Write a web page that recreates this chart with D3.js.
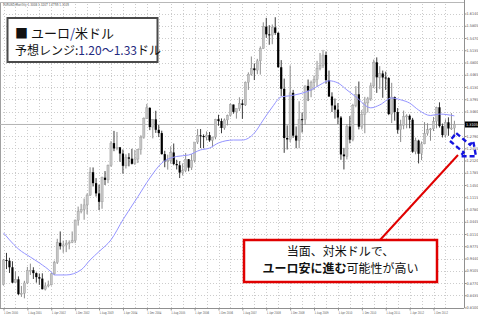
<!DOCTYPE html>
<html>
<head>
<meta charset="utf-8">
<script src="https://cdn.jsdelivr.net/npm/d3@7"></script>
<style>
html, body { margin: 0; padding: 0; background: #fff; }
svg { display: block; }
</style>
</head>
<body>
<div class="chart"></div>
<script>
// EURUSD monthly, Dec 2000 .. Jul 2013 (one value per month)
var startYear = 2000, startMonth = 12;

var opens = [0.8725,
0.9400,0.9380,0.9200,0.8780,0.8870,0.8465,0.8490,0.8770,0.9110,0.9120,0.9040,0.8930,
0.8890,0.8600,0.8690,0.8720,0.9020,0.9330,0.9870,0.9775,0.9810,0.9860,0.9885,0.9925,
1.0490,1.0730,1.0780,1.0905,1.1175,1.1800,1.1500,1.1220,1.0990,1.1650,1.1590,1.1990,
1.2595,1.2450,1.2480,1.2310,1.1975,1.2205,1.2170,1.2030,1.2160,1.2425,1.2760,1.3270,
1.3560,1.3035,1.3245,1.2960,1.2870,1.2295,1.2100,1.2125,1.2340,1.2025,1.1990,1.1790,
1.1840,1.2155,1.1925,1.2120,1.2625,1.2810,1.2790,1.2760,1.2815,1.2670,1.2760,1.3250,
1.3200,1.3010,1.3230,1.3355,1.3650,1.3450,1.3535,1.3680,1.3640,1.4260,1.4480,1.4640,
1.4590,1.4845,1.5180,1.5780,1.5570,1.5550,1.5760,1.5610,1.4670,1.4080,1.2735,1.2695,
1.3970,1.2800,1.2665,1.3250,1.3240,1.4160,1.4030,1.4245,1.4330,1.4640,1.4715,1.5005,
1.4320,1.3870,1.3625,1.3510,1.3295,1.2285,1.2235,1.3050,1.2690,1.3630,1.3930,1.3045,
1.3380,1.3695,1.3805,1.4160,1.4805,1.4395,1.4500,1.4390,1.4375,1.3390,1.3855,1.3445,
1.2960,1.3080,1.3320,1.3340,1.3235,1.2360,1.2665,1.2305,1.2575,1.2860,1.2960,1.2985,
1.3190,1.3575,1.3060,1.2815,1.3165,1.2995,1.3008];

var highs = [0.9427,
0.9593,0.9460,0.9365,0.9090,0.8950,0.8690,0.8830,0.9210,0.9300,0.9200,0.9060,0.9030,
0.9035,0.8785,0.8835,0.9045,0.9380,0.9980,1.0180,0.9930,0.9945,0.9935,1.0180,1.0505,
1.0860,1.0935,1.1080,1.1220,1.1935,1.1930,1.1640,1.1460,1.1680,1.1830,1.2010,1.2650,
1.2930,1.2900,1.2490,1.2420,1.2290,1.2320,1.2440,1.2410,1.2440,1.2810,1.3300,1.3667,
1.3575,1.3245,1.3480,1.3090,1.2935,1.2385,1.2280,1.2510,1.2585,1.2140,1.2100,1.2040,
1.2325,1.2160,1.2295,1.2625,1.2980,1.2980,1.2835,1.2915,1.2900,1.2770,1.3260,1.3370,
1.3270,1.3270,1.3375,1.3680,1.3650,1.3540,1.3850,1.3790,1.4280,1.4530,1.4965,1.4775,
1.4900,1.5240,1.5900,1.6020,1.5820,1.5840,1.6038,1.5630,1.4865,1.4360,1.3080,1.4720,
1.4050,1.3050,1.3740,1.3430,1.4170,1.4335,1.4305,1.4445,1.4845,1.5060,1.5145,1.5100,
1.4580,1.3985,1.3815,1.3690,1.3335,1.2465,1.3110,1.3335,1.3670,1.4155,1.4280,1.3500,
1.3860,1.3860,1.4250,1.4880,1.4940,1.4700,1.4580,1.4550,1.4400,1.4245,1.3870,1.3555,
1.3235,1.3485,1.3385,1.3380,1.3285,1.2745,1.2690,1.2640,1.3170,1.3140,1.3010,1.3310,
1.3590,1.3710,1.3130,1.3245,1.3300,1.3415,1.3207];

var lows = [0.8700,
0.9150,0.9045,0.8765,0.8770,0.8440,0.8390,0.8350,0.8740,0.8990,0.8880,0.8780,0.8720,
0.8595,0.8565,0.8650,0.8700,0.8990,0.9290,0.9685,0.9595,0.9615,0.9690,0.9860,0.9860,
1.0340,1.0675,1.0500,1.0650,1.1150,1.1410,1.1135,1.0765,1.0800,1.1450,1.1500,1.1950,
1.2375,1.2400,1.2085,1.1760,1.1900,1.1960,1.2010,1.2000,1.2050,1.2280,1.2715,1.3260,
1.2950,1.2725,1.2875,1.2760,1.2280,1.1935,1.1870,1.2035,1.1990,1.1875,1.1640,1.1710,
1.1800,1.1825,1.1860,1.2065,1.2570,1.2460,1.2455,1.2670,1.2630,1.2480,1.2700,1.3070,
1.2865,1.2960,1.3080,1.3320,1.3400,1.3265,1.3475,1.3260,1.3610,1.4050,1.4440,1.4320,
1.4480,1.4470,1.5170,1.5475,1.5285,1.5300,1.5555,1.4660,1.3885,1.2330,1.2420,1.2625,
1.2740,1.2455,1.2455,1.2885,1.3100,1.3745,1.3850,1.4045,1.4140,1.4585,1.4650,1.4220,
1.3860,1.3445,1.3265,1.3115,1.2140,1.1875,1.2150,1.2590,1.2645,1.3575,1.2970,1.2970,
1.2865,1.3430,1.3750,1.4100,1.3970,1.4070,1.3835,1.4050,1.3360,1.3145,1.3210,1.2855,
1.2625,1.2975,1.3000,1.3000,1.2330,1.2290,1.2040,1.2130,1.2565,1.2800,1.2660,1.2925,
1.3000,1.3020,1.2750,1.2745,1.2795,1.2955,1.2755];

var closes = [0.9400,
0.9380,0.9200,0.8780,0.8870,0.8465,0.8490,0.8770,0.9110,0.9120,0.9040,0.8930,0.8890,
0.8600,0.8690,0.8720,0.9020,0.9330,0.9870,0.9775,0.9810,0.9860,0.9885,0.9925,1.0490,
1.0730,1.0780,1.0905,1.1175,1.1800,1.1500,1.1220,1.0990,1.1650,1.1590,1.1990,1.2595,
1.2450,1.2480,1.2310,1.1975,1.2205,1.2170,1.2030,1.2160,1.2425,1.2760,1.3270,1.3560,
1.3035,1.3245,1.2960,1.2870,1.2295,1.2100,1.2125,1.2340,1.2025,1.1990,1.1790,1.1840,
1.2155,1.1925,1.2120,1.2625,1.2810,1.2790,1.2760,1.2815,1.2670,1.2760,1.3250,1.3200,
1.3010,1.3230,1.3355,1.3650,1.3450,1.3535,1.3680,1.3640,1.4260,1.4480,1.4640,1.4590,
1.4845,1.5180,1.5780,1.5570,1.5550,1.5760,1.5610,1.4670,1.4080,1.2735,1.2695,1.3970,
1.2800,1.2665,1.3250,1.3240,1.4160,1.4030,1.4245,1.4330,1.4640,1.4715,1.5005,1.4320,
1.3870,1.3625,1.3510,1.3295,1.2285,1.2235,1.3050,1.2690,1.3630,1.3930,1.3045,1.3380,
1.3695,1.3805,1.4160,1.4805,1.4395,1.4500,1.4390,1.4375,1.3390,1.3855,1.3445,1.2960,
1.3080,1.3320,1.3340,1.3235,1.2360,1.2665,1.2305,1.2575,1.2860,1.2960,1.2985,1.3190,
1.3575,1.3060,1.2815,1.3165,1.2995,1.3010,1.3105];

// moving average
var maMonths = ["2000-12","2001-02","2001-05","2001-09","2001-12","2002-04","2002-05","2002-09",
"2003-02","2003-05","2003-08","2003-12","2004-04","2004-09","2005-01","2005-05","2005-10",
"2006-02","2006-06","2006-09","2006-12","2007-05","2007-08","2007-12","2008-03","2008-06",
"2008-09","2008-12","2009-03","2009-07","2009-10","2010-01","2010-04","2010-07","2010-10",
"2011-03","2011-06","2011-10","2012-01","2012-04","2012-07","2012-11","2013-02","2013-07"];
var maValues = [1.014,0.995,0.970,0.948,0.932,0.907,0.899,0.899,
0.913,0.940,0.963,0.995,1.050,1.113,1.164,1.205,1.223,
1.227,1.241,1.246,1.260,1.268,1.268,1.287,1.323,1.358,
1.386,1.389,1.394,1.405,1.419,1.430,1.424,1.405,1.386,
1.356,1.364,1.383,1.378,1.369,1.350,1.335,1.339,1.334];

var priceTicks = [1.6140,1.5805,1.5470,1.5135,1.4800,1.4465,1.4130,1.3795,1.3460,1.3125,
1.2790,1.2455,1.2120,1.1785,1.1450,1.1115,1.0780,1.0445,1.0110,0.9775,0.9440,0.9105,
0.8770,0.8435,0.8100];
var timeTicks = ["2000-12","2001-08","2002-04","2002-12","2003-08","2004-04","2004-12","2005-08",
"2006-04","2006-12","2007-08","2008-04","2008-12","2009-08","2010-04","2010-12","2011-08",
"2012-04","2012-12"];
var monthNames = ["Jan","Feb","Mar","Apr","May","Jun","Jul","Aug","Sep","Oct","Nov","Dec"];
var current = 1.3105;

function mIdx(s) {
  var p = s.split("-");
  return (+p[0] - startYear) * 12 + (+p[1] - startMonth);
}

var W = 478, H = 317;
var plotRight = 464, plotBottom = 308;
var tiny = "'Liberation Sans Narrow', 'DejaVu Sans Condensed', sans-serif";

var svg = d3.select(".chart").append("svg")
    .attr("width", W).attr("height", H);

var x = d3.scaleLinear().domain([0, 144]).range([3.5, 433.5]);
var y = d3.scaleLinear().domain([0.8100, 1.6140]).range([307.5, 13.5]);

// grid
var grid = svg.append("g").attr("stroke", "#cccccc").attr("stroke-dasharray", "1,2").attr("stroke-width", 1);
grid.selectAll("line.h").data(priceTicks).enter().append("line")
    .attr("x1", 0).attr("x2", plotRight)
    .attr("y1", function (d) { return Math.round(y(d)) + 0.5; })
    .attr("y2", function (d) { return Math.round(y(d)) + 0.5; });
var gridMonths = d3.range(0, opens.length, 4);
grid.selectAll("line.v").data(gridMonths).enter().append("line")
    .attr("y1", 4).attr("y2", plotBottom)
    .attr("x1", function (d) { return Math.round(x(d)) + 0.5; })
    .attr("x2", function (d) { return Math.round(x(d)) + 0.5; });

// frame
svg.append("line").attr("x1", 0.5).attr("x2", 0.5).attr("y1", 2).attr("y2", plotBottom)
    .attr("stroke", "#a0a0a0");
svg.append("line").attr("x1", 0).attr("x2", plotRight).attr("y1", 2.5).attr("y2", 2.5)
    .attr("stroke", "#b8b8b8");

// bid line
svg.append("line").attr("x1", 0).attr("x2", plotRight)
    .attr("y1", y(current)).attr("y2", y(current))
    .attr("stroke", "#b4b4b4").attr("stroke-width", 1);

// candles
var bars = d3.range(opens.length).map(function (i) {
  return { i: i, o: opens[i], h: highs[i], l: lows[i], c: closes[i] };
});
var cg = svg.append("g");
cg.selectAll("line.wick").data(bars).enter().append("line")
    .attr("x1", function (d) { return x(d.i); })
    .attr("x2", function (d) { return x(d.i); })
    .attr("y1", function (d) { return y(d.h); })
    .attr("y2", function (d) { return y(d.l); })
    .attr("stroke", function (d) { return d.c >= d.o ? "#8c8c8c" : "#3a3a3a"; })
    .attr("stroke-width", 1);
cg.selectAll("rect").data(bars).enter().append("rect")
    .attr("x", function (d) { return x(d.i) - 1.1; })
    .attr("width", 2.2)
    .attr("y", function (d) { return y(Math.max(d.o, d.c)); })
    .attr("height", function (d) { return Math.max(1, Math.abs(y(d.o) - y(d.c))); })
    .attr("fill", function (d) { return d.c >= d.o ? "#c4c4c4" : "#000"; })
    .attr("stroke", function (d) { return d.c >= d.o ? "#9a9a9a" : "none"; })
    .attr("stroke-width", 0.4);

// moving average
var ma = maMonths.map(function (m, k) { return [mIdx(m), maValues[k]]; });
svg.append("path").datum(ma)
    .attr("fill", "none").attr("stroke", "#9494ff").attr("stroke-width", 1)
    .attr("d", d3.line().curve(d3.curveMonotoneX)
        .x(function (d) { return x(d[0]); })
        .y(function (d) { return y(d[1]); }));

// right price axis
var yAxis = d3.axisRight(y).tickValues(priceTicks).tickSize(2)
    .tickFormat(d3.format(".4f"));
var ya = svg.append("g").attr("transform", "translate(" + (plotRight + 0.5) + ",0)").call(yAxis);
ya.select(".domain").attr("stroke", "#909090").attr("d", "M0,0V" + plotBottom);
ya.selectAll(".tick line").attr("stroke", "#909090");
ya.selectAll(".tick text").attr("x", 2).attr("fill", "#555")
    .style("font-family", tiny).style("font-size", "3.8px");

// current price tag
svg.append("rect").attr("x", plotRight + 1).attr("y", y(current) - 3)
    .attr("width", W - plotRight - 1).attr("height", 6).attr("fill", "#000");
svg.append("text").attr("x", plotRight + 2).attr("y", y(current))
    .attr("dy", "0.35em").attr("fill", "#fff")
    .style("font-family", tiny).style("font-size", "3.8px")
    .text(current.toFixed(4));

// bottom time axis
var xAxis = d3.axisBottom(x).tickValues(timeTicks.map(mIdx)).tickSize(2)
    .tickFormat(function (d, k) {
      var p = timeTicks[k].split("-");
      return "1 " + monthNames[+p[1] - 1] + " " + p[0];
    });
var xa = svg.append("g").attr("transform", "translate(0," + (plotBottom + 0.5) + ")").call(xAxis);
xa.select(".domain").attr("stroke", "#909090").attr("d", "M0,0H" + plotRight);
xa.selectAll(".tick line").attr("stroke", "#909090");
xa.selectAll(".tick text").attr("y", 3).attr("x", 0).attr("text-anchor", "start").attr("fill", "#555")
    .attr("textLength", 14).attr("lengthAdjust", "spacingAndGlyphs")
    .style("font-family", tiny).style("font-size", "3.6px");

// header
svg.append("text").attr("x", 3).attr("y", 6)
    .attr("textLength", 66).attr("lengthAdjust", "spacingAndGlyphs")
    .style("font-family", tiny).style("font-size", "4px").attr("fill", "#555")
    .text("EURUSD,Monthly  1.3008 1.3207 1.2755 1.3105");

// title box
var jp = "'Noto Sans CJK JP', sans-serif";
svg.append("rect").attr("x", 7.5).attr("y", 18).attr("width", 150).attr("height", 44)
    .attr("fill", "#fff").attr("stroke", "#4a4a4a").attr("stroke-width", 2);
var t1 = svg.append("text").attr("x", 15).attr("y", 33).attr("dy", "0.35em")
    .style("font-family", jp).style("font-size", "13px").attr("fill", "#111");
t1.append("tspan").text("■ ユーロ");
t1.append("tspan").attr("fill", "#2a3a9a").text("/");
t1.append("tspan").text("米ドル");
var t2 = svg.append("text").attr("x", 15).attr("y", 51).attr("dy", "0.35em")
    .style("font-family", jp).style("font-size", "12px").attr("fill", "#111");
t2.append("tspan").text("予想レンジ:");
t2.append("tspan").attr("fill", "#1f2a80").text("1.20〜1.33");
t2.append("tspan").text("ドル");

// forecast arrow (dashed outline)
var arrowPts = [[0,-5],[18,-5],[18,-10],[30,0],[18,10],[18,5],[0,5]];
svg.append("polygon")
    .attr("points", arrowPts.map(function (p) { return p.join(","); }).join(" "))
    .attr("transform", "translate(453,137) rotate(40)")
    .attr("fill", "none").attr("stroke", "#1414e0").attr("stroke-width", 2.4)
    .attr("stroke-dasharray", "5,3");

// callout
svg.append("line").attr("x1", 380).attr("y1", 240).attr("x2", 458).attr("y2", 155)
    .attr("stroke", "#e00000").attr("stroke-width", 2);
svg.append("rect").attr("x", 244).attr("y", 240).attr("width", 193).attr("height", 42)
    .attr("fill", "#fff").attr("stroke", "#e00000").attr("stroke-width", 2.5);
svg.append("text").attr("x", 340.5).attr("y", 252).attr("dy", "0.35em")
    .attr("text-anchor", "middle").style("font-family", jp).style("font-size", "12px")
    .attr("fill", "#111").text("当面、対米ドルで、");
var t3 = svg.append("text").attr("x", 340.5).attr("y", 269).attr("dy", "0.35em")
    .attr("text-anchor", "middle").style("font-family", jp).style("font-size", "12px")
    .attr("fill", "#111");
t3.append("tspan").style("font-weight", "bold").text("ユーロ安に進む");
t3.append("tspan").text("可能性が高い");
</script>
</body>
</html>
